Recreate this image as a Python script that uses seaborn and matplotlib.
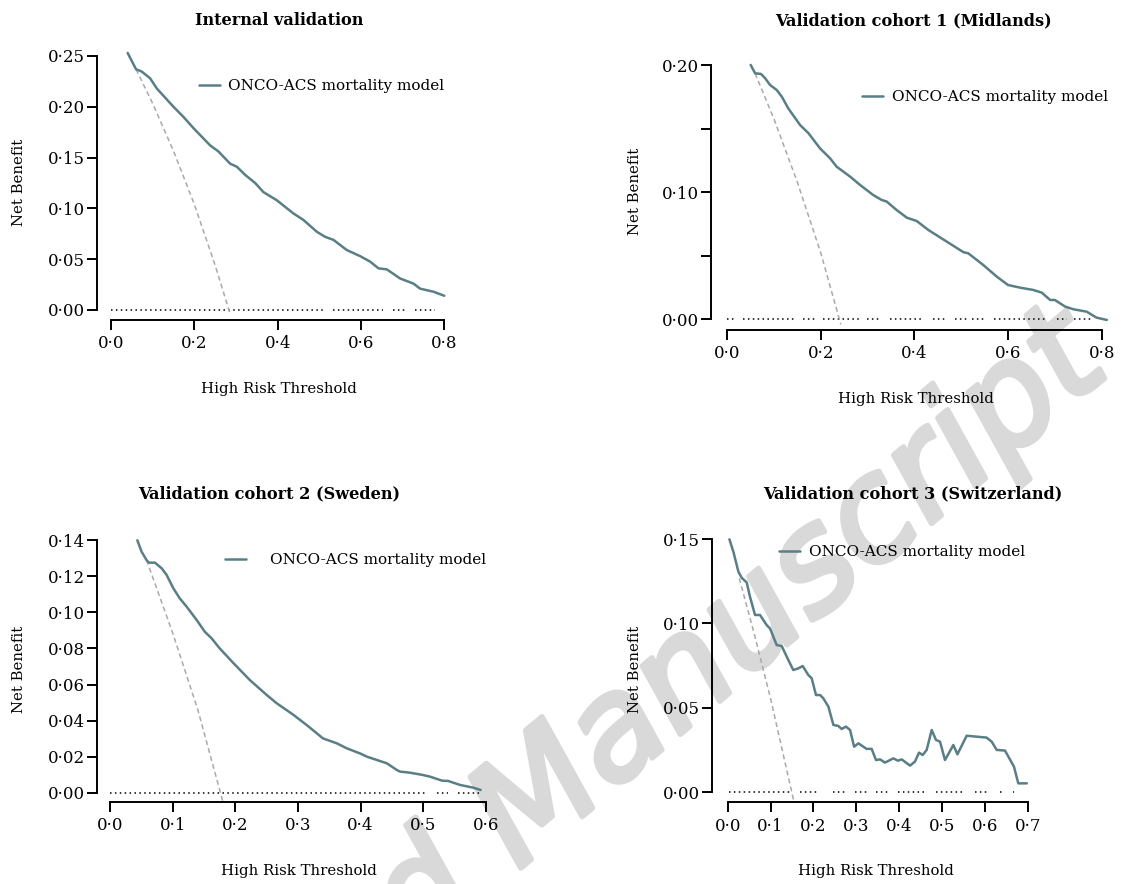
import matplotlib
matplotlib.use("Agg")
import matplotlib.pyplot as plt
from matplotlib import patheffects as pe
import seaborn as sns

W, H, DPI = 1121, 884, 100

sns.set_style("ticks")
plt.rcParams["font.family"] = ["DejaVu Serif", "DejaVu Sans"]
plt.rcParams["text.color"] = "black"
plt.rcParams["axes.labelcolor"] = "black"

# ---------------- data ----------------
TITLES = ["Internal validation", "Validation cohort 1 (Midlands)",
          "Validation cohort 2 (Sweden)", "Validation cohort 3 (Switzerland)"]
MODEL_LABEL = "ONCO-ACS mortality model"
XLABEL = "High Risk Threshold"
YLABEL = "Net Benefit"
WATERMARK = "Accepted Manuscript"

# Panel 1 - internal validation
p1_model_x = [0.04, 0.06, 0.074, 0.094, 0.11, 0.15, 0.174, 0.198, 0.238, 0.258, 0.286, 0.302,
              0.322, 0.346, 0.366, 0.398, 0.438, 0.462, 0.494, 0.514, 0.534, 0.566, 0.598,
              0.622, 0.642, 0.662, 0.694, 0.726, 0.742, 0.774, 0.8]
p1_model_y = [0.253, 0.237, 0.2346, 0.228, 0.218, 0.200, 0.190, 0.179, 0.162, 0.156, 0.144, 0.141,
              0.133, 0.125, 0.116, 0.108, 0.095, 0.0886, 0.077, 0.072, 0.069, 0.059, 0.053,
              0.0476, 0.041, 0.040, 0.031, 0.026, 0.021, 0.018, 0.014]
p1_all_x = [0.06, 0.10, 0.15, 0.20, 0.25, 0.286]
p1_all_y = [0.237, 0.2033, 0.1565, 0.104, 0.044, -0.004]
p1_none_start = [0.0, 0.534, 0.678, 0.730]
p1_none_end = [0.514, 0.654, 0.706, 0.778]
p1_xticks = [0.0, 0.2, 0.4, 0.6, 0.8]
p1_xticklabels = ["0·0", "0·2", "0·4", "0·6", "0·8"]
p1_yticks = [0.0, 0.05, 0.10, 0.15, 0.20, 0.25]
p1_yticklabels = ["0·00", "0·05", "0·10", "0·15", "0·20", "0·25"]

# Panel 2 - Midlands
p2_model_x = [0.0505, 0.06, 0.0726, 0.081, 0.092, 0.106, 0.117, 0.131, 0.156, 0.174, 0.1986,
              0.22, 0.234, 0.263, 0.284, 0.312, 0.330, 0.341, 0.362, 0.384, 0.405, 0.43,
              0.469, 0.505, 0.515, 0.547, 0.576, 0.60, 0.626, 0.654, 0.672, 0.69, 0.70,
              0.722, 0.7395, 0.768, 0.789, 0.811]
p2_model_y = [0.2003, 0.1937, 0.1932, 0.190, 0.1845, 0.1806, 0.1753, 0.166, 0.153, 0.1465, 0.1346,
              0.1268, 0.1202, 0.1123, 0.1058, 0.0979, 0.094, 0.0927, 0.0861, 0.080, 0.0774, 0.0703,
              0.0612, 0.0528, 0.052, 0.0428, 0.0336, 0.027, 0.0249, 0.0231, 0.021, 0.0152, 0.0152,
              0.0100, 0.0079, 0.006, 0.0013, -0.0005]
p2_all_x = [0.06, 0.10, 0.15, 0.20, 0.243]
p2_all_y = [0.1937, 0.158, 0.1082, 0.0525, -0.004]
p2_none_start = [0.0, 0.035, 0.163, 0.206, 0.298, 0.348, 0.44, 0.487, 0.523, 0.569, 0.704, 0.74]
p2_none_end = [0.015, 0.142, 0.192, 0.284, 0.327, 0.419, 0.469, 0.512, 0.548, 0.683, 0.726, 0.782]
p2_xticks = [0.0, 0.2, 0.4, 0.6, 0.8]
p2_xticklabels = ["0·0", "0·2", "0·4", "0·6", "0·8"]
p2_yticks = [0.0, 0.05, 0.10, 0.15, 0.20]
p2_yticklabels = ["0·00", "", "0·10", "", "0·20"]

# Panel 3 - Sweden
p3_model_x = [0.0432, 0.050, 0.058, 0.0618, 0.0714, 0.082, 0.090, 0.1007, 0.111, 0.122, 0.138,
              0.151, 0.162, 0.175, 0.197, 0.223, 0.250, 0.266, 0.293, 0.314, 0.327, 0.340,
              0.362, 0.378, 0.399, 0.41, 0.442, 0.458, 0.463, 0.479, 0.5, 0.511, 0.53, 0.54,
              0.559, 0.580, 0.592]
p3_model_y = [0.14, 0.1337, 0.129, 0.1276, 0.1276, 0.1245, 0.1208, 0.1134, 0.1078, 0.1032, 0.0958,
              0.0893, 0.0856, 0.080, 0.0718, 0.0625, 0.0542, 0.0496, 0.0431, 0.0375, 0.0338, 0.0301,
              0.0274, 0.0246, 0.0218, 0.020, 0.0163, 0.0126, 0.0117, 0.0111, 0.0098, 0.0089, 0.0067,
              0.0065, 0.0043, 0.0028, 0.0015]
p3_all_x = [0.058, 0.10, 0.14, 0.1796]
p3_all_y = [0.129, 0.0883, 0.0459, -0.0046]
p3_none_start = [0.0, 0.522, 0.556]
p3_none_end = [0.506, 0.540, 0.591]
p3_xticks = [0.0, 0.1, 0.2, 0.3, 0.4, 0.5, 0.6]
p3_xticklabels = ["0·0", "0·1", "0·2", "0·3", "0·4", "0·5", "0·6"]
p3_yticks = [0.0, 0.02, 0.04, 0.06, 0.08, 0.10, 0.12, 0.14]
p3_yticklabels = ["0·00", "0·02", "0·04", "0·06", "0·08", "0·10", "0·12", "0·14"]

# Panel 4 - Switzerland
p4_model_x = [0.004, 0.0132, 0.025, 0.0327, 0.0443, 0.052, 0.0638, 0.0754, 0.091, 0.0988, 0.1143,
              0.126, 0.1416, 0.153, 0.165, 0.175, 0.188, 0.196, 0.206, 0.2155, 0.223, 0.235,
              0.2466, 0.258, 0.266, 0.276, 0.2855, 0.295, 0.305, 0.324, 0.336, 0.346, 0.3555,
              0.367, 0.3866, 0.397, 0.406, 0.4254, 0.437, 0.4464, 0.455, 0.4643, 0.476, 0.486,
              0.4954, 0.507, 0.5265, 0.536, 0.5576, 0.604, 0.616, 0.6276, 0.647, 0.668, 0.678,
              0.698]
p4_model_y = [0.1498, 0.1425, 0.1306, 0.127, 0.1243, 0.1158, 0.105, 0.105, 0.099, 0.097, 0.0872,
              0.0866, 0.0783, 0.0724, 0.0734, 0.0748, 0.0695, 0.0675, 0.0576, 0.0576, 0.0557, 0.0507,
              0.0399, 0.0393, 0.0375, 0.0389, 0.0369, 0.027, 0.029, 0.0257, 0.0257, 0.0191, 0.0195,
              0.0176, 0.0201, 0.0187, 0.0195, 0.0158, 0.0182, 0.0235, 0.0221, 0.0251, 0.0369, 0.031,
              0.030, 0.0191, 0.028, 0.0225, 0.0335, 0.0324, 0.030, 0.0251, 0.0247, 0.0152, 0.0053,
              0.0053]
p4_all_x = [0.027, 0.06, 0.10, 0.1548]
p4_all_y = [0.1267, 0.0957, 0.0556, -0.0059]
p4_none_start = [0.004, 0.169, 0.246, 0.296, 0.347, 0.398, 0.487, 0.577, 0.636, 0.666]
p4_none_end = [0.150, 0.211, 0.277, 0.324, 0.375, 0.460, 0.553, 0.605, 0.644, 0.668]
p4_xticks = [0.0, 0.1, 0.2, 0.3, 0.4, 0.5, 0.6, 0.7]
p4_xticklabels = ["0·0", "0·1", "0·2", "0·3", "0·4", "0·5", "0·6", "0·7"]
p4_yticks = [0.0, 0.05, 0.10, 0.15]
p4_yticklabels = ["0·00", "0·05", "0·10", "0·15"]

# ---------------- layout (pixels) ----------------
panels = [
    dict(title=TITLES[0], mx=p1_model_x, my=p1_model_y, ax_=p1_all_x, ay=p1_all_y,
         ns=p1_none_start, ne=p1_none_end, xt=p1_xticks, xtl=p1_xticklabels,
         yt=p1_yticks, ytl=p1_yticklabels,
         x0px=111, x1px=444.3, spx=96.7, y0px=310, y1px=56, spy=320,
         title_xy=(279, 25), xlab_xy=(279, 393), ylab_xy=(19.5, 182),
         leg_xy=(199, 86), leg_pad=0.55),
    dict(title=TITLES[1], mx=p2_model_x, my=p2_model_y, ax_=p2_all_x, ay=p2_all_y,
         ns=p2_none_start, ne=p2_none_end, xt=p2_xticks, xtl=p2_xticklabels,
         yt=p2_yticks, ytl=p2_yticklabels,
         x0px=727, x1px=1101.7, spx=711, y0px=319.3, y1px=65.3, spy=330,
         title_xy=(913.5, 25), xlab_xy=(915.6, 403), ylab_xy=(635, 191),
         leg_xy=(862, 97), leg_pad=0.6),
    dict(title=TITLES[2], mx=p3_model_x, my=p3_model_y, ax_=p3_all_x, ay=p3_all_y,
         ns=p3_none_start, ne=p3_none_end, xt=p3_xticks, xtl=p3_xticklabels,
         yt=p3_yticks, ytl=p3_yticklabels,
         x0px=110.3, x1px=485.7, spx=96.7, y0px=792.7, y1px=540.3, spy=801.7,
         title_xy=(269, 498), xlab_xy=(299, 875), ylab_xy=(19.5, 669),
         leg_xy=(225, 560), leg_pad=1.6),
    dict(title=TITLES[3], mx=p4_model_x, my=p4_model_y, ax_=p4_all_x, ay=p4_all_y,
         ns=p4_none_start, ne=p4_none_end, xt=p4_xticks, xtl=p4_xticklabels,
         yt=p4_yticks, ytl=p4_yticklabels,
         x0px=727.7, x1px=1027.7, spx=711.7, y0px=792.3, y1px=539, spy=802.3,
         title_xy=(912.5, 498), xlab_xy=(876, 875), ylab_xy=(635, 669),
         leg_xy=(779, 552), leg_pad=0.6),
]

TEAL = "#5a7e86"
GREY = "#a9a9a9"
WM = "#d9d9d9"

fig = plt.figure(figsize=(W / DPI, H / DPI), dpi=DPI)
fig.patch.set_facecolor("white")

# watermark (behind everything), anchored at the end of its baseline
fig.text(1112 / W, 1 - 372 / H, WATERMARK, fontsize=101, color=WM, rotation=40,
         rotation_mode="anchor", ha="right", va="baseline", family="DejaVu Sans",
         style="oblique", zorder=-5,
         path_effects=[pe.withStroke(linewidth=4, foreground=WM, capstyle="round",
                                     joinstyle="round")])

for p in panels:
    xt, yt = p["xt"], p["yt"]
    xs = (p["x1px"] - p["x0px"]) / (xt[-1] - xt[0])
    ys = (p["y0px"] - p["y1px"]) / (yt[-1] - yt[0])
    dx = p["x0px"] - p["spx"]
    dy = p["spy"] - p["y0px"]
    left, right = p["spx"], p["x1px"] + dx
    top, bottom = p["y1px"] - dy, p["spy"]
    ax = fig.add_axes([left / W, 1 - bottom / H, (right - left) / W, (bottom - top) / H])
    ax.set_facecolor("none")
    ax.set_xlim(xt[0] - dx / xs, xt[-1] + dx / xs)
    ax.set_ylim(yt[0] - dy / ys, yt[-1] + dy / ys)

    # treat none (dotted zero line with gaps)
    ax.hlines([0.0] * len(p["ns"]), p["ns"], p["ne"], colors="black",
              linestyles=(0, (1, 2.2)), linewidth=1.1, zorder=2)
    # treat all (grey dashed)
    sns.lineplot(x=p["ax_"], y=p["ay"], ax=ax, color=GREY, linewidth=1.1,
                 estimator=None, sort=False, zorder=2)
    ax.lines[-1].set_dashes((3.2, 2.2))
    # model
    sns.lineplot(x=p["mx"], y=p["my"], ax=ax, color=TEAL, linewidth=1.8,
                 estimator=None, sort=False, zorder=3)
    model_line = ax.lines[-1]

    for s in ("top", "right"):
        ax.spines[s].set_visible(False)
    for s in ("left", "bottom"):
        ax.spines[s].set_linewidth(1.4)
        ax.spines[s].set_color("black")
    ax.spines["left"].set_bounds(yt[0], yt[-1])
    ax.spines["bottom"].set_bounds(xt[0], xt[-1])
    ax.set_xticks(xt)
    ax.set_xticklabels(p["xtl"])
    ax.set_yticks(yt)
    ax.set_yticklabels(p["ytl"])
    ax.tick_params(axis="both", direction="out", length=7.5, width=1.4, color="black",
                   labelsize=12, labelcolor="black")
    ax.tick_params(axis="y", pad=1.0)
    ax.tick_params(axis="x", pad=3.5)
    ax.set_xlabel("")
    ax.set_ylabel("")

    ax.legend(handles=[model_line], labels=[MODEL_LABEL], loc="center left",
              bbox_to_anchor=(p["leg_xy"][0] / W, 1 - p["leg_xy"][1] / H),
              bbox_transform=fig.transFigure, frameon=False, fontsize=11,
              handlelength=1.35, handletextpad=p["leg_pad"], borderpad=0,
              borderaxespad=0, labelcolor="black")

    fig.text(p["title_xy"][0] / W, 1 - p["title_xy"][1] / H, p["title"], ha="center",
             va="baseline", fontsize=11.6, fontweight="bold", color="black")
    fig.text(p["xlab_xy"][0] / W, 1 - p["xlab_xy"][1] / H, XLABEL, ha="center",
             va="baseline", fontsize=10.7, color="black")
    fig.text(p["ylab_xy"][0] / W, 1 - p["ylab_xy"][1] / H, YLABEL, ha="center",
             va="center", rotation=90, fontsize=10.7, color="black")

fig.savefig("out.png", dpi=DPI, facecolor="white")
